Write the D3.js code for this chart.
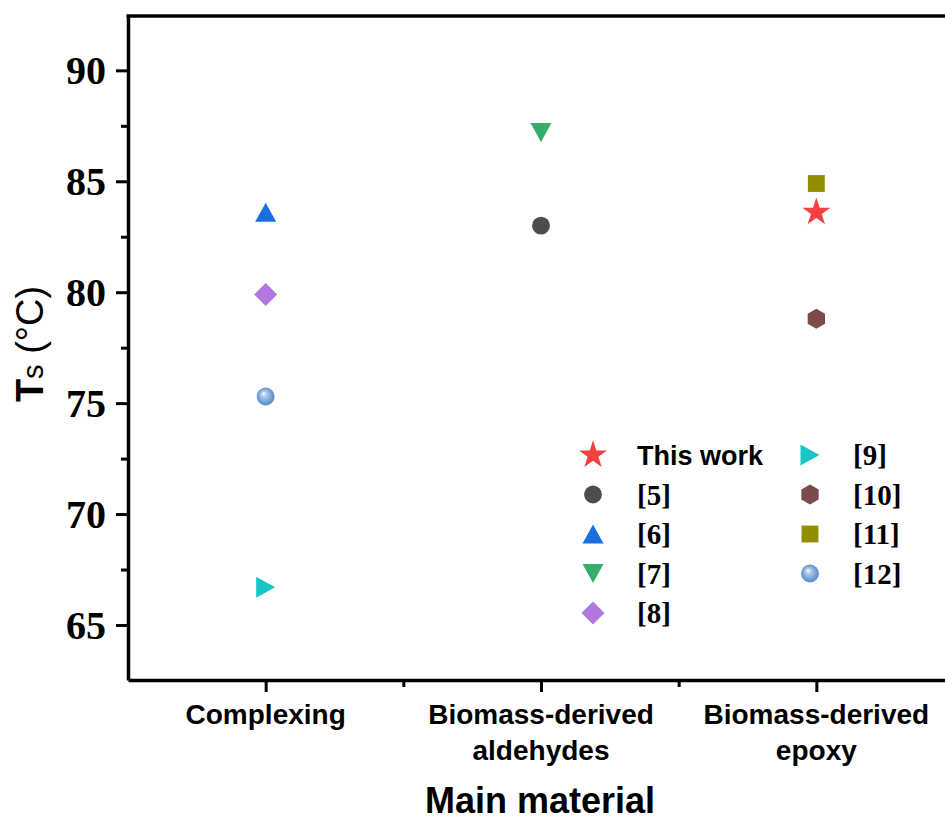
<!DOCTYPE html>
<html>
<head>
<meta charset="utf-8">
<script src="https://cdn.jsdelivr.net/npm/d3@7"></script>
<style>
  body { margin: 0; background: #fff; }
  svg { display: block; }
</style>
</head>
<body>
<div id="chart"></div>
<script>
// categories on the x axis (each entry = lines of the tick label)
var categories = [["Complexing"], ["Biomass-derived", "aldehydes"], ["Biomass-derived", "epoxy"]];

// one point per reference
var seriesNames = ["This work", "[5]", "[6]", "[7]", "[8]", "[9]", "[10]", "[11]", "[12]"];
var seriesCategory = [3, 2, 1, 2, 1, 1, 3, 3, 1];
var seriesValues = [83.6, 83.0, 83.6, 87.2, 79.9, 66.7, 78.8, 84.9, 75.3];

var yTicks = [65, 70, 75, 80, 85, 90];
var yMinor = [67.5, 72.5, 77.5, 82.5, 87.5];
var xMinor = [1.5, 2.5];

// marker styles
var shapes = ["star", "circle", "up", "down", "diamond", "right", "hexagon", "square", "ball"];
var colors = ["#f24141", "#4d4d4d", "#1a6fe0", "#36ad6c", "#b177df", "#19c6c6", "#7b4b4b", "#8f8f00", "#6a9bd1"];

var W = 945, H = 822;
var margin = {top: 16, left: 128, bottom: 680, right: 954};

var svg = d3.select("#chart").append("svg").attr("width", W).attr("height", H);

var defs = svg.append("defs");
var grad = defs.append("radialGradient").attr("id", "ballGrad")
  .attr("cx", "0.5").attr("cy", "0.5").attr("r", "0.55").attr("fx", "0.38").attr("fy", "0.32");
grad.append("stop").attr("offset", "0%").attr("stop-color", "#ffffff");
grad.append("stop").attr("offset", "30%").attr("stop-color", "#a9c6ea");
grad.append("stop").attr("offset", "75%").attr("stop-color", "#6a9bd1");
grad.append("stop").attr("offset", "100%").attr("stop-color", "#4f84bf");

var x = d3.scaleLinear().domain([0.5, 3.5]).range([margin.left, margin.right]);
var y = d3.scaleLinear().domain([62.52, 92.45]).range([margin.bottom, margin.top]);

// custom shapes centred on their bounding box
function tri(dir, w, h) {
  return {draw: function(ctx) {
    if (dir === "up") { ctx.moveTo(0, -h/2); ctx.lineTo(w/2, h/2); ctx.lineTo(-w/2, h/2); }
    else if (dir === "down") { ctx.moveTo(0, h/2); ctx.lineTo(w/2, -h/2); ctx.lineTo(-w/2, -h/2); }
    else { ctx.moveTo(h/2, 0); ctx.lineTo(-h/2, w/2); ctx.lineTo(-h/2, -w/2); }
    ctx.closePath();
  }};
}
var hexType = {draw: function(ctx) {
  var r = 10;
  for (var i = 0; i < 6; i++) {
    var a = Math.PI / 2 + i * Math.PI / 3;
    if (i === 0) ctx.moveTo(r * Math.cos(a), -r * Math.sin(a));
    else ctx.lineTo(r * Math.cos(a), -r * Math.sin(a));
  }
  ctx.closePath();
}};
var diamondType = {draw: function(ctx) {
  var r = 11.5;
  ctx.moveTo(0, -r); ctx.lineTo(r, 0); ctx.lineTo(0, r); ctx.lineTo(-r, 0); ctx.closePath();
}};

function symbolPath(shape) {
  var s = d3.symbol();
  switch (shape) {
    case "star": return s.type(d3.symbolStar).size(245)();
    case "circle": return s.type(d3.symbolCircle).size(250)();
    case "ball": return s.type(d3.symbolCircle).size(250)();
    case "square": return s.type(d3.symbolSquare).size(285)();
    case "diamond": return s.type(diamondType)();
    case "hexagon": return s.type(hexType)();
    case "up": return s.type(tri("up", 21, 19))();
    case "down": return s.type(tri("down", 21, 19))();
    case "right": return s.type(tri("right", 21, 19))();
  }
}
function fillOf(i) { return shapes[i] === "ball" ? "url(#ballGrad)" : colors[i]; }

// frame
svg.append("line").attr("x1", margin.left - 1.5).attr("x2", W + 10)
  .attr("y1", margin.top).attr("y2", margin.top)
  .attr("stroke", "#000").attr("stroke-width", 3.5);
svg.append("line").attr("x1", margin.right).attr("x2", margin.right)
  .attr("y1", margin.top).attr("y2", margin.bottom)
  .attr("stroke", "#000").attr("stroke-width", 3.5);

// y axis
var yAxis = svg.append("g").attr("transform", "translate(" + margin.left + ",0)")
  .call(d3.axisLeft(y).tickValues(yTicks).tickSize(12).tickPadding(10).tickSizeOuter(0));
yAxis.select(".domain").attr("stroke-width", 3.5);
yAxis.selectAll(".tick line").attr("stroke-width", 3);
yAxis.selectAll(".tick text")
  .style("font-family", "'Liberation Serif', 'Times New Roman', serif")
  .style("font-weight", "bold").style("font-size", "40px").attr("fill", "#000")
  .attr("dy", "0.34em");
var yMinorAxis = svg.append("g").attr("transform", "translate(" + margin.left + ",0)")
  .call(d3.axisLeft(y).tickValues(yMinor).tickSize(7).tickFormat("").tickSizeOuter(0));
yMinorAxis.select(".domain").remove();
yMinorAxis.selectAll(".tick line").attr("stroke-width", 3);

// x axis
var xAxis = svg.append("g").attr("transform", "translate(0," + margin.bottom + ")")
  .call(d3.axisBottom(x).tickValues([1, 2, 3]).tickSize(12).tickFormat("").tickSizeOuter(0));
xAxis.select(".domain").attr("stroke-width", 3.5);
xAxis.selectAll(".tick line").attr("stroke-width", 3);
var xMinorAxis = svg.append("g").attr("transform", "translate(0," + margin.bottom + ")")
  .call(d3.axisBottom(x).tickValues(xMinor).tickSize(7).tickFormat("").tickSizeOuter(0));
xMinorAxis.select(".domain").remove();
xMinorAxis.selectAll(".tick line").attr("stroke-width", 3);

// category labels
categories.forEach(function(lines, i) {
  var t = svg.append("text")
    .attr("x", x(i + 1)).attr("y", 724)
    .attr("text-anchor", "middle")
    .style("font-family", "'Liberation Sans', Arial, sans-serif")
    .style("font-weight", "bold").style("font-size", "28px");
  lines.forEach(function(l, j) {
    t.append("tspan").attr("x", x(i + 1)).attr("dy", j === 0 ? 0 : 36).text(l);
  });
});

// axis titles
svg.append("text").attr("x", 540).attr("y", 813).attr("text-anchor", "middle")
  .style("font-family", "'Liberation Sans', Arial, sans-serif")
  .style("font-weight", "bold").style("font-size", "36px").text("Main material");

var yt = svg.append("text").attr("transform", "translate(43,344) rotate(-90)")
  .attr("text-anchor", "middle")
  .style("font-family", "'Liberation Sans', Arial, sans-serif").style("font-size", "38px");
yt.append("tspan").style("font-weight", "bold").text("T");
yt.append("tspan").style("font-size", "29px").text("s");
yt.append("tspan").text(" (\u00B0C)");

// points
svg.append("g").selectAll("path")
  .data(seriesNames)
  .join("path")
  .attr("d", function(d, i) { return symbolPath(shapes[i]); })
  .attr("transform", function(d, i) {
    return "translate(" + x(seriesCategory[i]) + "," + y(seriesValues[i]) + ")";
  })
  .attr("fill", function(d, i) { return fillOf(i); });

// legend, two columns
var legend = svg.append("g");
seriesNames.forEach(function(name, i) {
  var col = i < 5 ? 0 : 1;
  var row = col === 0 ? i : i - 5;
  var lx = col === 0 ? 593 : 810;
  var ly = 455 + row * 39.5;
  legend.append("path").attr("d", symbolPath(shapes[i]))
    .attr("transform", "translate(" + lx + "," + ly + ")")
    .attr("fill", fillOf(i));
  var isText = name === "This work";
  legend.append("text")
    .attr("x", col === 0 ? 637 : 853).attr("y", ly).attr("dy", "0.36em")
    .style("font-family", isText ? "'Liberation Sans', Arial, sans-serif" : "'Liberation Serif', 'Times New Roman', serif")
    .style("font-weight", "bold").style("font-size", isText ? "27px" : "29px")
    .text(name);
});
</script>
</body>
</html>
